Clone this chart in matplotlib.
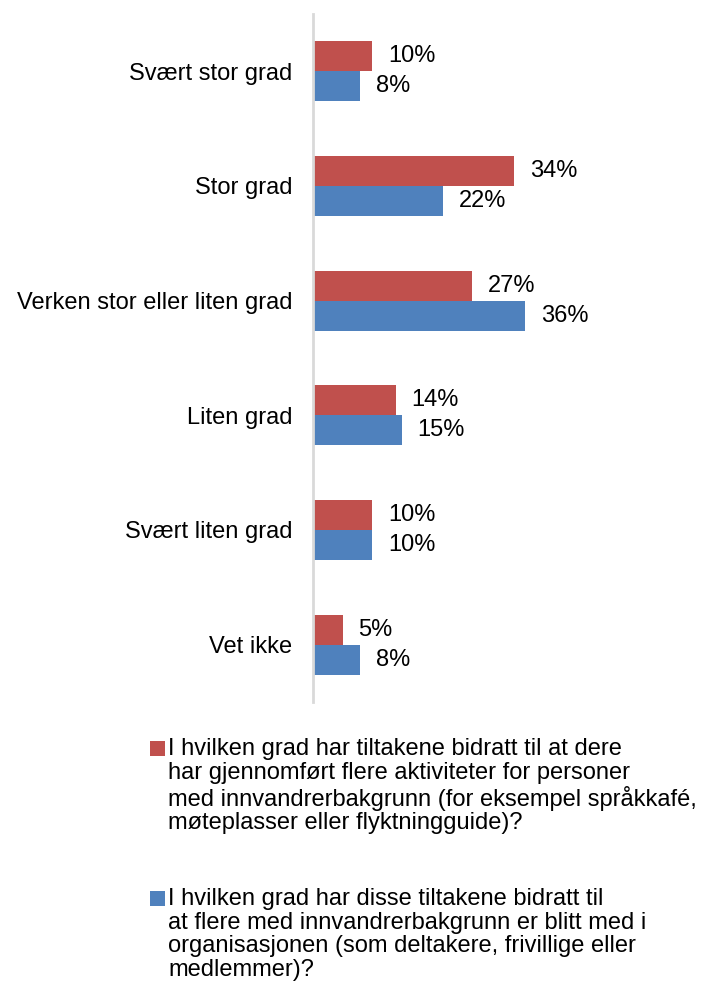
import matplotlib
matplotlib.use("Agg")
import matplotlib.pyplot as plt
import matplotlib.patches as mpatches
import numpy as np

plt.rcParams["font.family"] = ["Liberation Sans", "DejaVu Sans"]

# data
categories = ["Svært stor grad", "Stor grad", "Verken stor eller liten grad",
              "Liten grad", "Svært liten grad", "Vet ikke"]
aktiviteter = [10, 34, 27, 14, 10, 5]
medlemmer = [8, 22, 36, 15, 10, 8]

legend_labels = [
    "I hvilken grad har tiltakene bidratt til at dere\n"
    "har gjennomført flere aktiviteter for personer\n"
    "med innvandrerbakgrunn (for eksempel språkkafé,\n"
    "møteplasser eller flyktningguide)?",
    "I hvilken grad har disse tiltakene bidratt til\n"
    "at flere med innvandrerbakgrunn er blitt med i\n"
    "organisasjonen (som deltakere, frivillige eller\n"
    "medlemmer)?",
]

RED = "#C0504D"
BLUE = "#4F81BD"
FS = 17

W, H = 707, 994
fig = plt.figure(figsize=(W / 100, H / 100), dpi=100)
ax = fig.add_axes([313 / W, 1 - 702 / H, 236 / W, 688 / H])

y = np.arange(len(categories))
bh = 0.262
ax.barh(y - bh / 2, aktiviteter, height=bh, color=RED, edgecolor="none")
ax.barh(y + bh / 2, medlemmer, height=bh, color=BLUE, edgecolor="none")

for yi, v in zip(y - bh / 2, aktiviteter):
    ax.annotate(f"{v}%", (v, yi), xytext=(16, 0), textcoords="offset pixels",
                ha="left", va="center", fontsize=FS)
for yi, v in zip(y + bh / 2, medlemmer):
    ax.annotate(f"{v}%", (v, yi), xytext=(16, 0), textcoords="offset pixels",
                ha="left", va="center", fontsize=FS)

ax.set_xlim(0, 40)
ax.set_ylim(len(categories) - 0.5, -0.5)
ax.set_yticks(y)
ax.set_yticklabels(categories, fontsize=FS)
ax.tick_params(axis="y", length=0, pad=15)
ax.set_xticks([])
for s in ["top", "right", "bottom"]:
    ax.spines[s].set_visible(False)
ax.spines["left"].set_color("#D9D9D9")
ax.spines["left"].set_linewidth(2)

# legend drawn manually
for color, label, ytop in [(RED, legend_labels[0], 738), (BLUE, legend_labels[1], 888)]:
    fig.patches.append(mpatches.Rectangle((150 / W, 1 - (ytop + 18) / H), 15 / W, 15 / H,
                                          transform=fig.transFigure, facecolor=color,
                                          edgecolor="none"))
    fig.text(168 / W, 1 - ytop / H, label, ha="left", va="top", fontsize=FS,
             linespacing=1.1)

fig.savefig("out.png", dpi=100, facecolor="white")
